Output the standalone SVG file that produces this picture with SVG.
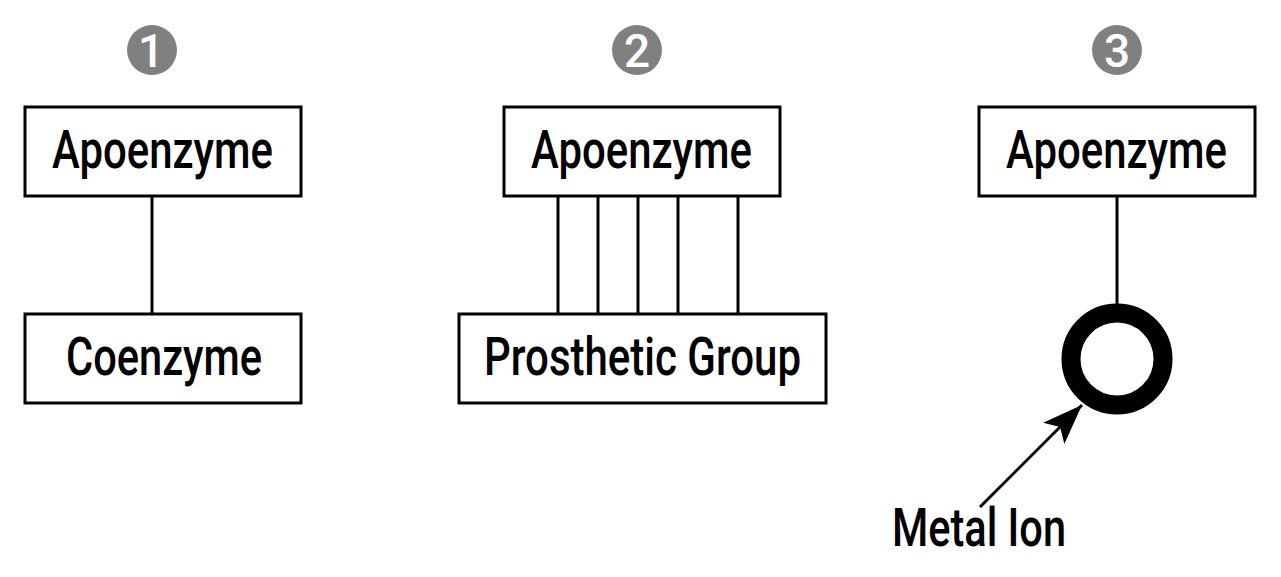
<svg xmlns="http://www.w3.org/2000/svg" width="1281" height="577" viewBox="0 0 1281 577">
<style>
.box{fill:#fff;stroke:#000;stroke-width:3}
.lbl{font-family:Roboto,"Liberation Sans",Arial,sans-serif;font-weight:500;font-size:54px;fill:#000}
.num{fill:#808080}
.numt{font-family:Roboto,"Liberation Sans",sans-serif;font-weight:500;font-size:46px;fill:#fff;text-anchor:middle}
.conn{stroke:#000;stroke-width:3;fill:none}
</style>
<defs>
<marker id="ah2" viewBox="0 0 40 30" refX="40" refY="15" markerWidth="40" markerHeight="30" markerUnits="userSpaceOnUse" orient="auto">
<path d="M0,0 L40,15 L0,30 L9,15 Z" fill="#000"/>
</marker>
</defs>
<g id="connectors">
<line class="conn" x1="152" y1="196" x2="152" y2="314"/>
<line class="conn" x1="558" y1="196" x2="558" y2="314"/>
<line class="conn" x1="598" y1="196" x2="598" y2="314"/>
<line class="conn" x1="638" y1="196" x2="638" y2="314"/>
<line class="conn" x1="678" y1="196" x2="678" y2="314"/>
<line class="conn" x1="738" y1="196" x2="738" y2="314"/>
<line class="conn" x1="1117" y1="196" x2="1117" y2="305"/>
<line class="conn" x1="980" y1="507" x2="1082" y2="405" marker-end="url(#ah2)"/>
</g>
<g id="num1"><circle class="num" cx="152" cy="50" r="25"/><text class="numt" x="151" y="67">1</text></g>
<g id="num2"><circle class="num" cx="637" cy="50" r="25"/><text class="numt" x="637" y="67">2</text></g>
<g id="num3"><circle class="num" cx="1117" cy="50" r="25"/><text class="numt" x="1117" y="67">3</text></g>
<g id="apo1"><rect class="box" x="25" y="107" width="276" height="89"/><text class="lbl" x="52" y="168" textLength="221" lengthAdjust="spacingAndGlyphs">Apoenzyme</text></g>
<g id="coenzyme"><rect class="box" x="25" y="314" width="276" height="89"/><text class="lbl" x="66" y="375" textLength="196" lengthAdjust="spacingAndGlyphs">Coenzyme</text></g>
<g id="apo2"><rect class="box" x="504" y="107" width="276" height="89"/><text class="lbl" x="531" y="168" textLength="221" lengthAdjust="spacingAndGlyphs">Apoenzyme</text></g>
<g id="prosthetic"><rect class="box" x="459" y="314" width="367" height="89"/><text class="lbl" x="484" y="375" textLength="317" lengthAdjust="spacingAndGlyphs">Prosthetic Group</text></g>
<g id="apo3"><rect class="box" x="979" y="107" width="276" height="89"/><text class="lbl" x="1006" y="168" textLength="221" lengthAdjust="spacingAndGlyphs">Apoenzyme</text></g>
<g id="metal"><circle cx="1117" cy="359" r="46" fill="none" stroke="#000" stroke-width="19"/></g>
<g id="metallabel"><text class="lbl" x="892" y="546" textLength="174" lengthAdjust="spacingAndGlyphs">Metal Ion</text></g>
</svg>
